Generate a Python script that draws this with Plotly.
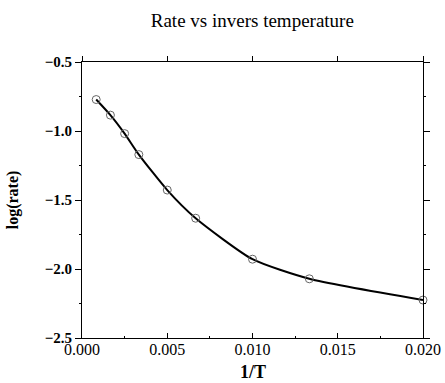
import plotly.graph_objects as go

inv_T = [0.000833, 0.001667, 0.0025, 0.003333, 0.005, 0.006667, 0.01, 0.013333, 0.02]
log_rate = [-0.772, -0.885, -1.019, -1.171, -1.428, -1.632, -1.929, -2.071, -2.225]

x_ticks = [0.0, 0.005, 0.010, 0.015, 0.020]
x_ticklabels = ["0.000", "0.005", "0.010", "0.015", "0.020"]
y_ticks = [-0.5, -1.0, -1.5, -2.0, -2.5]
y_ticklabels = ["\u22120.5", "\u22121.0", "\u22121.5", "\u22122.0", "\u22122.5"]

fig = go.Figure()
fig.add_trace(go.Scatter(
    x=inv_T, y=log_rate, mode="lines+markers",
    line=dict(color="black", width=2, shape="spline", smoothing=0.6),
    marker=dict(symbol="circle-open", size=8, color="#666666", line=dict(width=1)),
    showlegend=False, cliponaxis=False,
))

font_serif = "Liberation Serif, Times New Roman, serif"

fig.update_layout(
    width=445, height=383,
    margin=dict(l=82, r=22, t=62, b=45),
    paper_bgcolor="white", plot_bgcolor="white",
    title=dict(text="Rate vs invers temperature", x=0.567, xanchor="center", y=0.947, yanchor="middle",
               font=dict(family=font_serif, size=19, color="black")),
    font=dict(family=font_serif, color="black"),
    xaxis=dict(
        range=[0, 0.020], tickvals=x_ticks, ticktext=x_ticklabels,
        tickfont=dict(family=font_serif, size=16, color="black"),
        showline=True, linecolor="black", linewidth=1, mirror=True,
        ticks="inside", ticklen=5, tickcolor="black",
        minor=dict(ticks="inside", ticklen=2, tickcolor="black", dtick=0.0025),
        showgrid=False, zeroline=False, automargin=False, ticklabelstandoff=-3,
    ),
    xaxis2=dict(
        range=[0, 0.020], overlaying="x", side="top", tickvals=x_ticks,
        showticklabels=False, showline=False, ticks="outside", ticklen=5, tickcolor="black",
        showgrid=False, zeroline=False, automargin=False,
    ),
    yaxis=dict(
        range=[-2.5, -0.5], tickvals=y_ticks, ticktext=["<b>%s</b>" % t for t in y_ticklabels],
        tickfont=dict(family=font_serif, size=15, color="black"),
        title=dict(text="<b>log(rate)</b>", font=dict(family=font_serif, size=16, color="black"), standoff=22),
        showline=True, linecolor="black", linewidth=1, mirror="ticks",
        ticks="outside", ticklen=6, tickcolor="black",
        minor=dict(ticks="outside", ticklen=2, tickcolor="black", dtick=0.25),
        showgrid=False, zeroline=False, automargin=False,
    ),
    annotations=[dict(
        text="<b>1/T</b>", xref="paper", yref="paper", x=0.5, y=-0.123,
        xanchor="center", yanchor="middle", showarrow=False,
        font=dict(family=font_serif, size=18, color="black"),
    )],
)
fig.add_trace(go.Scatter(x=[None], y=[None], xaxis="x2", showlegend=False, hoverinfo="skip"))

fig.write_html("out.html")
